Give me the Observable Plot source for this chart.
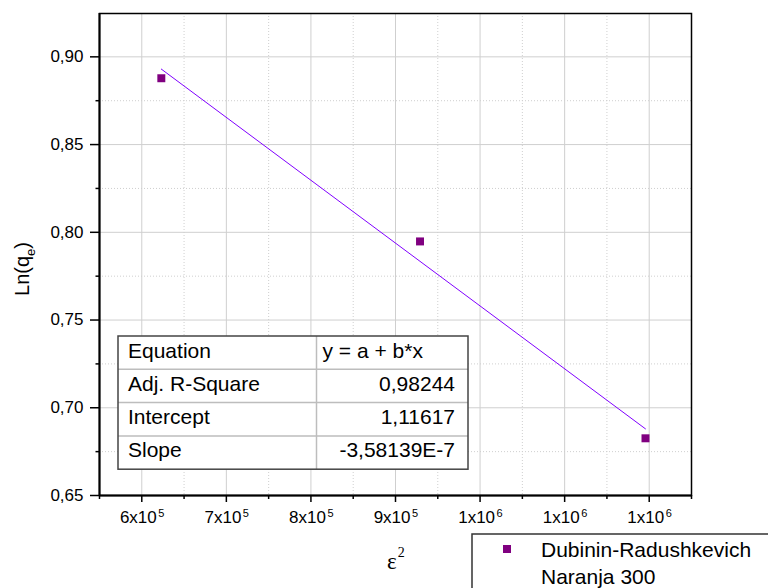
<!DOCTYPE html>
<html>
<head>
<meta charset="utf-8">
<script src="https://cdn.jsdelivr.net/npm/d3@7"></script>
<script src="https://cdn.jsdelivr.net/npm/@observablehq/plot@0.6"></script>
<style>
  body { margin: 0; background: #fff; }
  #chart { width: 768px; height: 588px; overflow: hidden; }
</style>
</head>
<body>
<div id="chart"></div>
<script>
// Dubinin-Radushkevich isotherm, Naranja 300: ln(qe) against ε²
const epsilonSq = [623100, 929000, 1195600];
const lnQe = [0.8878, 0.7948, 0.6826];

// Linear fit parameters (y = a + b*x)
const fitIntercept = 1.11617;
const fitSlope = -3.58139e-7;
const fitTable = [
  ["Equation", "y = a + b*x"],
  ["Adj. R-Square", "0,98244"],
  ["Intercept", "1,11617"],
  ["Slope", "-3,58139E-7"]
];

// Axis ticks and labels
const xMajor = [6e5, 7e5, 8e5, 9e5, 1e6, 1.1e6, 1.2e6];
const xMantissa = ["6x10", "7x10", "8x10", "9x10", "1x10", "1x10", "1x10"];
const xExponent = ["5", "5", "5", "5", "6", "6", "6"];
const xMinor = [5.5e5, 6.5e5, 7.5e5, 8.5e5, 9.5e5, 1.05e6, 1.15e6, 1.25e6];
const yMajor = [0.65, 0.70, 0.75, 0.80, 0.85, 0.90];
const yLabels = ["0,65", "0,70", "0,75", "0,80", "0,85", "0,90"];
const yMinor = [0.675, 0.725, 0.775, 0.825, 0.875];

const seriesName = ["Dubinin-Radushkevich", "Naranja 300"];

const points = epsilonSq.map((x, i) => ({x, y: lnQe[i]}));
const fitLine = d3.extent(epsilonSq).map(x => ({x, y: fitIntercept + fitSlope * x}));

const font = "'Liberation Sans', Arial, sans-serif";
const gridColor = "#cfcfcf";

const chart = Plot.plot({
  width: 768,
  height: 588,
  marginLeft: 99,
  marginRight: 77,
  marginTop: 13,
  marginBottom: 93,
  style: {fontFamily: font, background: "#fff", color: "#000"},
  x: {domain: [5.5e5, 1.25e6], axis: null},
  y: {domain: [0.65, 0.9247], axis: null},
  marks: [
    Plot.gridX(xMinor, {stroke: gridColor, strokeOpacity: 1, strokeDasharray: "1,2"}),
    Plot.gridY(yMinor, {stroke: gridColor, strokeOpacity: 1, strokeDasharray: "1,2"}),
    Plot.gridX(xMajor, {stroke: gridColor, strokeOpacity: 1}),
    Plot.gridY(yMajor, {stroke: gridColor, strokeOpacity: 1}),
    Plot.frame({stroke: "#000", strokeWidth: 1.5}),
    Plot.axisX(xMajor, {tickSize: 7, strokeWidth: 1.5, label: null, tickFormat: () => ""}),
    Plot.axisX(xMinor, {tickSize: 4, strokeWidth: 1.5, label: null, tickFormat: () => ""}),
    Plot.axisY(yMajor, {tickSize: 9, tickPadding: 7, strokeWidth: 1.5, fontSize: 17, label: null,
      tickFormat: d => yLabels[yMajor.indexOf(d)]}),
    Plot.axisY(yMinor, {tickSize: 3.5, strokeWidth: 1.5, label: null, tickFormat: () => ""}),
    Plot.ruleX([5.5e5], {stroke: "#000", strokeWidth: 2}),
    Plot.ruleY([0.65], {stroke: "#000", strokeWidth: 2}),
    Plot.text(xMajor, {x: d => d, frameAnchor: "bottom", text: (d, i) => xMantissa[i],
      textAnchor: "end", dx: 15, dy: 27, fontSize: 17}),
    Plot.text(xMajor, {x: d => d, frameAnchor: "bottom", text: (d, i) => xExponent[i],
      textAnchor: "start", dx: 16.5, dy: 21, fontSize: 11}),
    Plot.line(fitLine, {x: "x", y: "y", stroke: "#8000ff", strokeWidth: 1}),
    Plot.dot(points, {x: "x", y: "y", symbol: "square", r: 4.5, fill: "#800080", stroke: "none"})
  ]
});

document.getElementById("chart").appendChild(chart);

const svg = d3.select(chart);

// Axis titles
const yTitle = svg.append("text")
  .attr("transform", "translate(29,269) rotate(-90)")
  .attr("text-anchor", "middle")
  .attr("font-family", font)
  .attr("font-size", 20)
  .attr("fill", "#000");
yTitle.append("tspan").text("Ln(q");
yTitle.append("tspan").attr("font-size", 13).attr("dy", 6).text("e");
yTitle.append("tspan").attr("dy", -6).text(")");

const xTitle = svg.append("text")
  .attr("x", 387)
  .attr("y", 569)
  .attr("text-anchor", "start")
  .attr("font-family", "'Liberation Serif', 'Times New Roman', serif")
  .attr("font-size", 23)
  .attr("fill", "#000");
xTitle.append("tspan").text("ε");
xTitle.append("tspan").attr("font-size", 14).attr("dx", 1).attr("dy", -12).text("2");

// Fit results table
const tbl = {x: 118, y: 336, w: 350, rowH: 33.3, split: 316.5};
const tg = svg.append("g")
  .attr("font-family", font).attr("font-size", 21).attr("fill", "#000")
  .attr("text-anchor", "start");
tg.append("rect")
  .attr("x", tbl.x).attr("y", tbl.y)
  .attr("width", tbl.w).attr("height", tbl.rowH * fitTable.length)
  .attr("fill", "#fff");
fitTable.forEach((row, i) => {
  const top = tbl.y + i * tbl.rowH;
  if (i > 0) {
    tg.append("line")
      .attr("x1", tbl.x).attr("x2", tbl.x + tbl.w)
      .attr("y1", top).attr("y2", top)
      .attr("stroke", "#bdbdbd").attr("stroke-width", 1.5);
  }
  tg.append("text").attr("x", tbl.x + 10).attr("y", top + 21.5).text(row[0]);
  tg.append("text")
    .attr("x", i === 0 ? tbl.split + 6 : tbl.x + tbl.w - 13)
    .attr("text-anchor", i === 0 ? "start" : "end")
    .attr("y", top + 21.5)
    .text(row[1]);
});
tg.append("line")
  .attr("x1", tbl.split).attr("x2", tbl.split)
  .attr("y1", tbl.y).attr("y2", tbl.y + tbl.rowH * fitTable.length)
  .attr("stroke", "#bdbdbd").attr("stroke-width", 1.5);
tg.append("rect")
  .attr("x", tbl.x).attr("y", tbl.y)
  .attr("width", tbl.w).attr("height", tbl.rowH * fitTable.length)
  .attr("fill", "none").attr("stroke", "#444").attr("stroke-width", 1.5);

// Legend box
const lg = svg.append("g")
  .attr("font-family", font).attr("font-size", 21).attr("fill", "#000")
  .attr("text-anchor", "start");
lg.append("rect")
  .attr("x", 472).attr("y", 534).attr("width", 310).attr("height", 70)
  .attr("fill", "#fff").attr("stroke", "#333").attr("stroke-width", 1.5);
lg.append("rect")
  .attr("x", 503).attr("y", 545).attr("width", 8).attr("height", 8)
  .attr("fill", "#800080");
seriesName.forEach((s, i) => {
  lg.append("text").attr("x", 541).attr("y", 557 + i * 27).text(s);
});
</script>
</body>
</html>
